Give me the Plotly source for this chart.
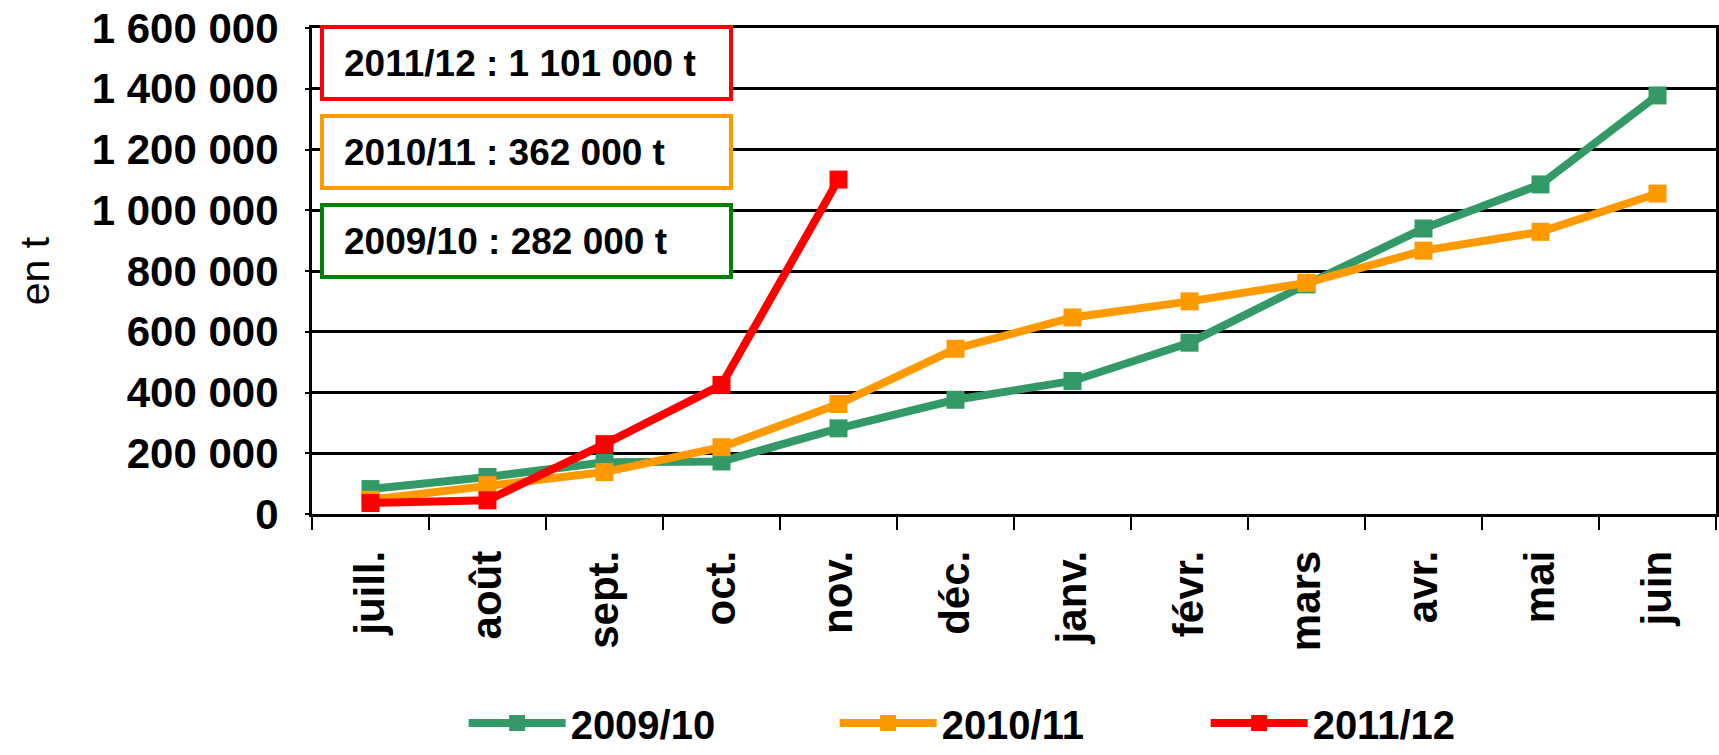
import plotly.graph_objects as go

# Monthly cumulative tonnage per marketing year (juillet -> juin)
months = ["juill.", "août", "sept.", "oct.", "nov.", "déc.",
          "janv.", "févr.", "mars", "avr.", "mai", "juin"]

campagne_2009_10 = [82000, 122000, 170000, 173000, 282000, 376000,
                    438000, 564000, 756000, 940000, 1085000, 1378000]
campagne_2010_11 = [47000, 95000, 138000, 220000, 362000, 544000,
                    647000, 700000, 761000, 867000, 929000, 1055000]
campagne_2011_12 = [36000, 45000, 230000, 425000, 1101000]

series = [
    ("2009/10", campagne_2009_10, "#339966"),
    ("2010/11", campagne_2010_11, "#FF9900"),
    ("2011/12", campagne_2011_12, "#FF0000"),
]

# Boxed totals at the top-left of the plot (label, value, border colour)
totals = [
    ("2011/12", 1101000, "#FF0000"),
    ("2010/11", 362000, "#FF9900"),
    ("2009/10", 282000, "#008000"),
]

FONT = "Arial, 'Liberation Sans', sans-serif"

fig = go.Figure()
for name, values, color in series:
    fig.add_trace(go.Scatter(
        x=months[:len(values)],
        y=values,
        name=name,
        mode="lines+markers",
        line=dict(color=color, width=8),
        marker=dict(symbol="square", size=18, color=color),
    ))


def fmt(v):
    return f"{v:,}".replace(",", " ")


box_tops = [1.006, 0.823, 0.640]
for (label, value, color), ytop in zip(totals, box_tops):
    fig.add_annotation(
        xref="paper", yref="paper",
        x=0.0057, y=ytop, xanchor="left", yanchor="top",
        text=f"{label} : {fmt(value)} t",
        showarrow=False, align="left",
        width=365, height=28, borderpad=20,
        bordercolor=color, borderwidth=4, bgcolor="white",
        font=dict(family=FONT, size=37, color="black", weight="bold"),
    )

fig.update_layout(
    width=1719, height=755,
    margin=dict(l=312, r=3, t=28, b=241, autoexpand=False),
    paper_bgcolor="white", plot_bgcolor="white",
    separators=", ",
    font=dict(family=FONT, color="black"),
    showlegend=True,
    legend=dict(
        orientation="h",
        x=0.108, xanchor="left",
        y=-0.43, yanchor="middle",
        itemwidth=97,
        entrywidth=259, entrywidthmode="pixels",
        font=dict(family=FONT, size=40, color="black", weight="bold"),
        bgcolor="rgba(0,0,0,0)",
    ),
)

fig.update_xaxes(
    type="category",
    categoryorder="array", categoryarray=months,
    range=[-0.5, len(months) - 0.5],
    tickson="boundaries",
    ticks="outside", ticklen=13, tickwidth=2, tickcolor="black",
    tickangle=-90,
    ticklabelstandoff=17,
    tickfont=dict(family=FONT, size=42, color="black", weight="bold"),
    showline=True, linecolor="black", linewidth=3, mirror=True,
    showgrid=False, zeroline=False,
    automargin=False,
    fixedrange=True,
)

fig.update_yaxes(
    range=[0, 1600000], dtick=200000,
    tickformat=",.0f",
    ticks="outside", ticklen=4, tickwidth=2, tickcolor="black",
    ticklabelstandoff=18,
    tickfont=dict(family=FONT, size=42, color="black", weight="bold"),
    showline=True, linecolor="black", linewidth=3, mirror=True,
    showgrid=True, gridcolor="black", gridwidth=3,
    zeroline=False,
    automargin=False,
    title=dict(text="en t", standoff=30,
               font=dict(family=FONT, size=41, color="black")),
    fixedrange=True,
)

fig.write_html("out.html")
